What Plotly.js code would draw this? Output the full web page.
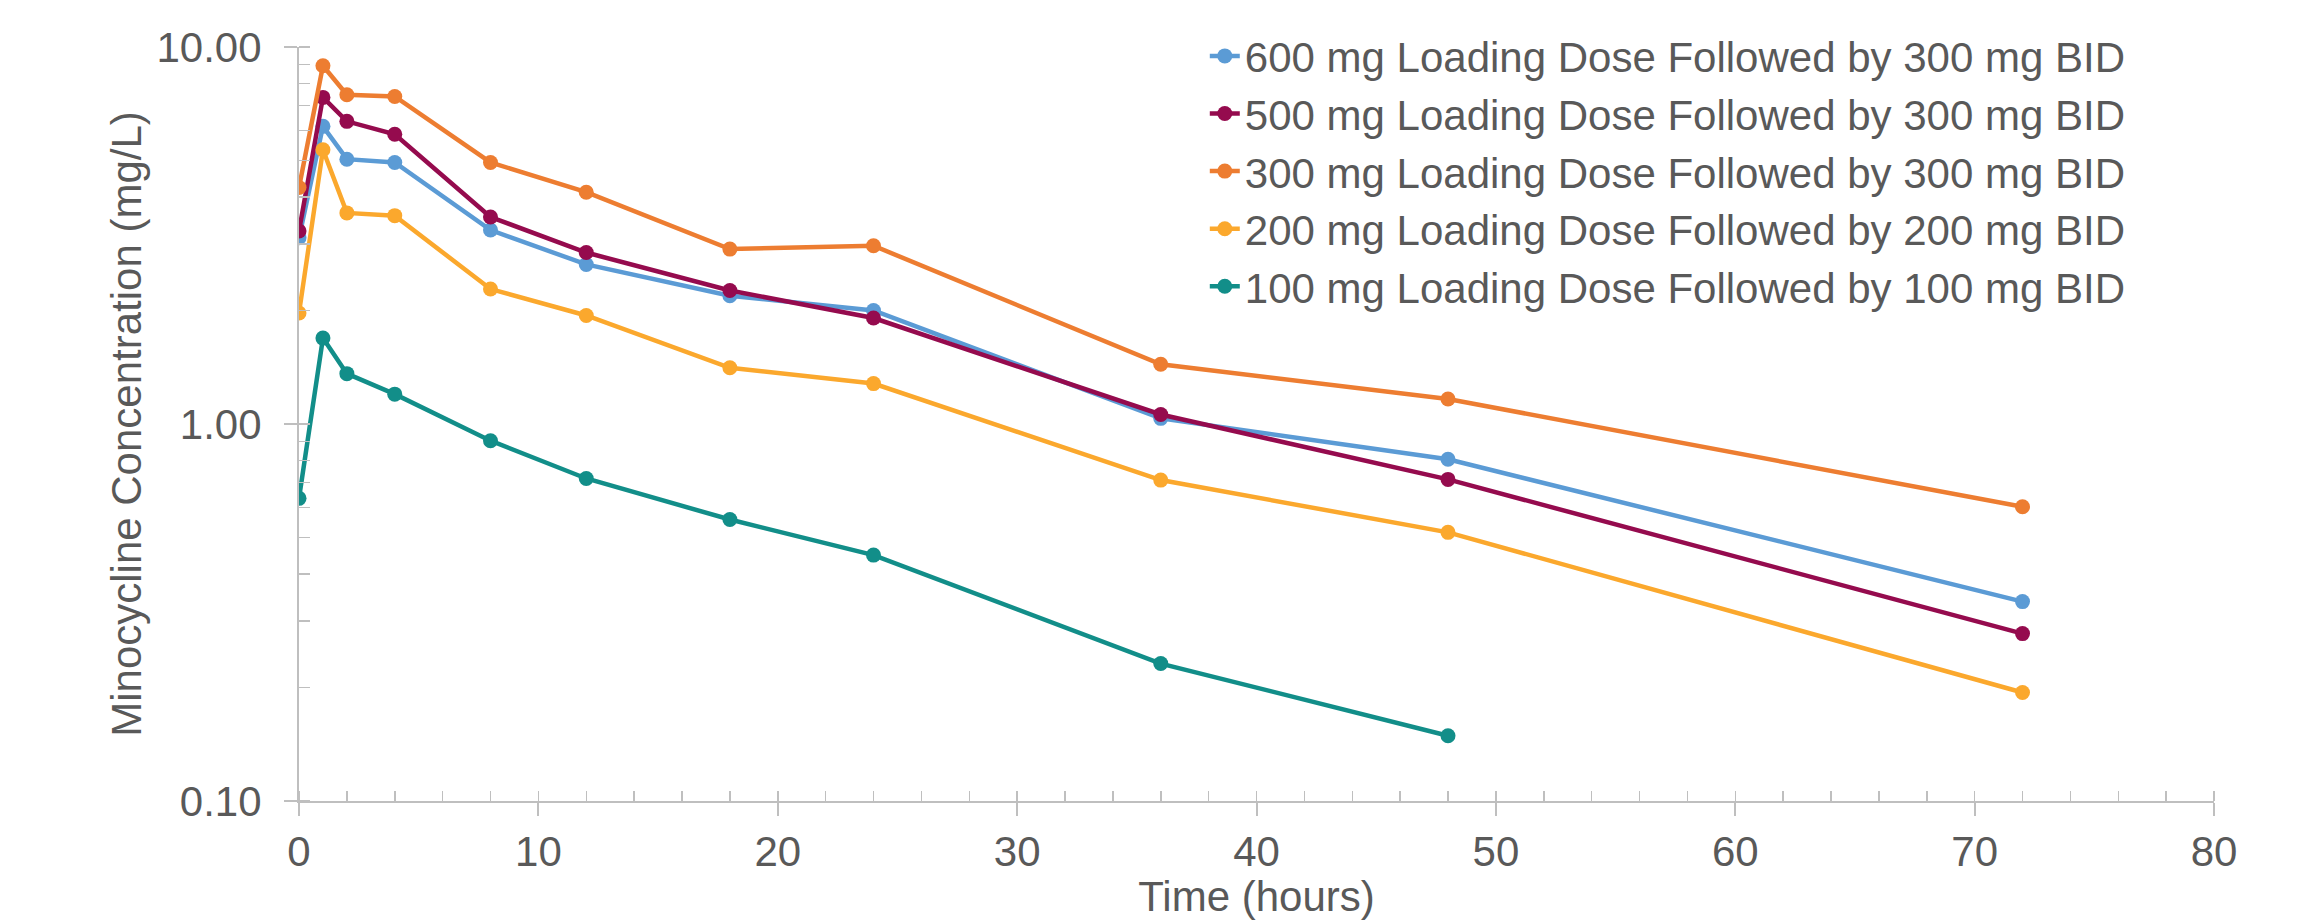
<!DOCTYPE html>
<html>
<head>
<meta charset="utf-8">
<script src="https://cdn.plot.ly/plotly-3.0.1.min.js"></script>
<style>
  html, body { margin: 0; padding: 0; background: #ffffff; }
  #chart { width: 2307px; height: 920px; }
</style>
</head>
<body>
<div id="chart"></div>
<script>
// ---- Data ----
const seriesNames = [
  "600 mg Loading Dose Followed by 300 mg BID",
  "500 mg Loading Dose Followed by 300 mg BID",
  "300 mg Loading Dose Followed by 300 mg BID",
  "200 mg Loading Dose Followed by 200 mg BID",
  "100 mg Loading Dose Followed by 100 mg BID"
];
const timeHours = [0, 1, 2, 4, 8, 12, 18, 24, 36, 48, 72];
const timeHours100 = [0, 1, 2, 4, 8, 12, 18, 24, 36, 48];
const conc600 = [3.12, 6.16, 5.04, 4.94, 3.27, 2.65, 2.19, 2.00, 1.035, 0.806, 0.338];
const conc500 = [3.25, 7.35, 6.35, 5.87, 3.54, 2.85, 2.26, 1.91, 1.06, 0.713, 0.278];
const conc300 = [4.24, 8.92, 7.47, 7.39, 4.94, 4.12, 2.91, 2.97, 1.44, 1.165, 0.603];
const conc200 = [1.97, 5.34, 3.63, 3.57, 2.28, 1.94, 1.41, 1.28, 0.71, 0.516, 0.194];
const conc100 = [0.635, 1.69, 1.36, 1.20, 0.903, 0.717, 0.558, 0.449, 0.2315, 0.149];
const yTickVals = [0.1, 1, 10];
const yTickText = ["0.10", "1.00", "10.00"];
const xTickVals = [0, 10, 20, 30, 40, 50, 60, 70, 80];
const xTickText = ["0", "10", "20", "30", "40", "50", "60", "70", "80"];

// ---- Styling ----
const colors = ["#5B9BD5", "#950B4E", "#ED7D31", "#FBA82D", "#128E89"];
const textColor = "#595959";
const axisColor = "#BFBFBF";
const fontFamily = "Liberation Sans, Arial, sans-serif";

const xs = [timeHours, timeHours, timeHours, timeHours, timeHours100];
const ys = [conc600, conc500, conc300, conc200, conc100];

const traces = seriesNames.map((name, i) => ({
  type: "scatter",
  mode: "lines+markers",
  name: name,
  x: xs[i],
  y: ys[i],
  line: { color: colors[i], width: 4.5 },
  marker: { color: colors[i], size: 15 }
}));

const layout = {
  width: 2307,
  height: 920,
  margin: { l: 299, r: 93, t: 47, b: 119, autoexpand: false },
  paper_bgcolor: "#ffffff",
  plot_bgcolor: "#ffffff",
  font: { family: fontFamily, color: textColor, size: 42 },
  showlegend: true,
  legend: {
    x: 0.473, xanchor: "left",
    y: 1.033, yanchor: "top",
    bgcolor: "rgba(0,0,0,0)",
    font: { family: fontFamily, size: 42, color: textColor },
    tracegroupgap: 0
  },
  xaxis: {
    type: "linear",
    range: [0, 80],
    tickmode: "array",
    tickvals: xTickVals,
    ticktext: xTickText,
    ticks: "outside",
    ticklen: 13,
    tickwidth: 2,
    tickcolor: axisColor,
    showline: true,
    linecolor: axisColor,
    linewidth: 2,
    showgrid: false,
    zeroline: false,
    tickfont: { family: fontFamily, size: 42, color: textColor },
    ticklabelstandoff: 0,
    minor: { dtick: 2, ticks: "inside", ticklen: 10, tickwidth: 1.5, tickcolor: axisColor, showgrid: false },
    title: { text: "Time (hours)", font: { family: fontFamily, size: 42, color: textColor }, standoff: 26 },
    automargin: true,
    fixedrange: true
  },
  xaxis2: {
    overlaying: "x",
    anchor: "y",
    range: [0, 80],
    tickmode: "array",
    tickvals: xTickVals,
    ticks: "inside",
    ticklen: 13,
    tickwidth: 2,
    tickcolor: axisColor,
    showticklabels: false,
    showline: false,
    showgrid: false,
    zeroline: false
  },
  yaxis: {
    type: "log",
    range: [-1, 1],
    tickmode: "array",
    tickvals: yTickVals,
    ticktext: yTickText,
    ticks: "outside",
    ticklen: 13,
    tickwidth: 2,
    tickcolor: axisColor,
    showline: true,
    linecolor: axisColor,
    linewidth: 2,
    showgrid: false,
    zeroline: false,
    tickfont: { family: fontFamily, size: 42, color: textColor },
    ticklabelstandoff: 14,
    minor: { dtick: "D1", ticks: "inside", ticklen: 11, tickwidth: 1.5, tickcolor: axisColor, showgrid: false },
    title: { text: "Minocycline Concentration (mg/L)", font: { family: fontFamily, size: 42, color: textColor }, standoff: 2 },
    automargin: false,
    fixedrange: true
  },
  yaxis2: {
    overlaying: "y",
    anchor: "x",
    type: "log",
    range: [-1, 1],
    tickmode: "array",
    tickvals: yTickVals,
    ticks: "inside",
    ticklen: 13,
    tickwidth: 2,
    tickcolor: axisColor,
    showticklabels: false,
    showline: false,
    showgrid: false,
    zeroline: false
  }
};

Plotly.newPlot("chart", traces, layout, { staticPlot: true, displayModeBar: false });
</script>
</body>
</html>
